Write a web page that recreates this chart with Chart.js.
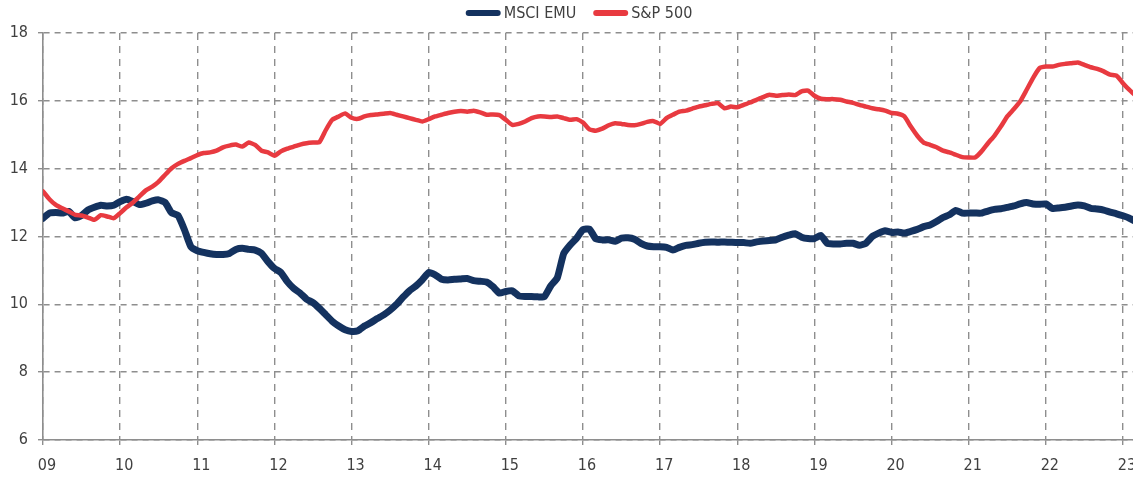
<!DOCTYPE html>
<html>
<head>
<meta charset="utf-8">
<script src="https://cdn.jsdelivr.net/npm/chart.js@4/dist/chart.umd.min.js"></script>
<style>
  body { margin: 0; background: #fff; }
  #wrap { width: 1133px; height: 477px; }
</style>
</head>
<body>
<div id="wrap"><canvas id="myChart" width="1133" height="477"></canvas></div>
<script>
// monthly values, first point = Jan 2009
const startYear = 2009;

const msciEmu = [
  12.54, 12.69, 12.71, 12.69, 12.74, 12.55, 12.62, 12.78, 12.86, 12.92, 12.90, 12.92, // 09
  13.03, 13.10, 13.03, 12.94, 12.98, 13.05, 13.08, 13.00, 12.70, 12.62, 12.20, 11.70, // 10
  11.58, 11.53, 11.49, 11.47, 11.47, 11.50, 11.62, 11.65, 11.62, 11.60, 11.50, 11.26, // 11
  11.06, 10.94, 10.67, 10.47, 10.33, 10.15, 10.05, 9.88, 9.69, 9.50, 9.36, 9.25,      // 12
  9.20, 9.22, 9.36, 9.46, 9.58, 9.69, 9.83, 10.00, 10.21, 10.40, 10.54, 10.72,        // 13
  10.94, 10.87, 10.74, 10.72, 10.74, 10.75, 10.76, 10.70, 10.68, 10.66, 10.52, 10.33, // 14
  10.38, 10.40, 10.25, 10.23, 10.23, 10.22, 10.23, 10.55, 10.78, 11.50, 11.75, 11.95, // 15
  12.20, 12.22, 11.93, 11.90, 11.90, 11.86, 11.95, 11.96, 11.92, 11.80, 11.72, 11.70, // 16
  11.70, 11.68, 11.60, 11.68, 11.74, 11.76, 11.80, 11.83, 11.84, 11.83, 11.84, 11.83, // 17
  11.82, 11.82, 11.80, 11.84, 11.87, 11.88, 11.90, 11.98, 12.04, 12.08, 11.98, 11.94, // 18
  11.94, 12.03, 11.80, 11.78, 11.78, 11.80, 11.80, 11.74, 11.80, 12.00, 12.10, 12.17, // 19
  12.12, 12.13, 12.10, 12.15, 12.21, 12.29, 12.34, 12.44, 12.56, 12.64, 12.77, 12.69, // 20
  12.69, 12.69, 12.69, 12.75, 12.80, 12.82, 12.86, 12.90, 12.96, 13.00, 12.96, 12.95, // 21
  12.96, 12.83, 12.84, 12.86, 12.90, 12.93, 12.90, 12.83, 12.81, 12.78, 12.72, 12.67, // 22
  12.61, 12.54, 12.44                                                                  // 23
];

const sp500 = [
  13.33, 13.10, 12.93, 12.83, 12.74, 12.64, 12.62, 12.56, 12.49, 12.63, 12.59, 12.54, // 09
  12.69, 12.86, 13.00, 13.18, 13.36, 13.47, 13.62, 13.82, 14.01, 14.14, 14.23, 14.31, // 10
  14.40, 14.46, 14.48, 14.53, 14.63, 14.68, 14.71, 14.65, 14.77, 14.70, 14.53, 14.48, // 11
  14.38, 14.51, 14.59, 14.65, 14.71, 14.75, 14.77, 14.78, 15.14, 15.44, 15.54, 15.63, // 12
  15.50, 15.47, 15.54, 15.58, 15.60, 15.62, 15.64, 15.59, 15.54, 15.49, 15.44, 15.39, // 13
  15.46, 15.54, 15.59, 15.64, 15.68, 15.70, 15.68, 15.71, 15.66, 15.59, 15.60, 15.58, // 14
  15.44, 15.29, 15.32, 15.39, 15.49, 15.54, 15.54, 15.52, 15.54, 15.49, 15.44, 15.46, // 15
  15.36, 15.16, 15.12, 15.18, 15.28, 15.34, 15.32, 15.29, 15.28, 15.32, 15.38, 15.40, // 16
  15.32, 15.49, 15.59, 15.68, 15.71, 15.77, 15.83, 15.87, 15.91, 15.93, 15.78, 15.83, // 17
  15.81, 15.88, 15.95, 16.03, 16.11, 16.18, 16.15, 16.17, 16.19, 16.17, 16.28, 16.30, // 18
  16.15, 16.06, 16.05, 16.05, 16.03, 15.98, 15.94, 15.88, 15.83, 15.78, 15.75, 15.71, // 19
  15.64, 15.62, 15.54, 15.24, 14.97, 14.77, 14.70, 14.63, 14.53, 14.48, 14.41, 14.34, // 20
  14.33, 14.33, 14.51, 14.75, 14.97, 15.24, 15.54, 15.75, 15.98, 16.32, 16.67, 16.96, // 21
  17.01, 17.01, 17.06, 17.09, 17.11, 17.13, 17.06, 16.99, 16.94, 16.87, 16.77, 16.74, // 22
  16.52, 16.32, 16.15                                                                  // 23
];

const seriesNames = ['MSCI EMU', 'S&P 500'];
const xTickYears = [2009, 2010, 2011, 2012, 2013, 2014, 2015, 2016, 2017, 2018, 2019, 2020, 2021, 2022, 2023];
const yTicks = [6, 8, 10, 12, 14, 16, 18];

const navy = 'rgb(20, 50, 95)';
const red = 'rgb(232, 58, 64)';
const gridGrey = '#8e8e8e';
const textGrey = '#404040';
const fontFamily = "'Liberation Sans Narrow', 'DejaVu Sans Condensed', sans-serif";

const toPoints = arr => arr.map((v, i) => ({ x: startYear + i / 12, y: v }));

// legend drawn by hand: thick rounded line + label, centred over the plot
const lineLegend = {
  id: 'lineLegend',
  afterDraw(chart) {
    const ctx = chart.ctx;
    const sets = chart.data.datasets;
    const boxW = 35, gap = 3, spacing = 17, yMid = 13;
    ctx.save();
    ctx.font = '16px ' + fontFamily;
    let total = 0;
    sets.forEach((ds, i) => {
      total += boxW + gap + ctx.measureText(ds.label).width;
      if (i < sets.length - 1) total += spacing;
    });
    let x = 579 - total / 2;
    sets.forEach(ds => {
      ctx.strokeStyle = ds.borderColor;
      ctx.lineWidth = 6;
      ctx.lineCap = 'round';
      ctx.beginPath();
      ctx.moveTo(x + 3, yMid);
      ctx.lineTo(x + boxW - 3, yMid);
      ctx.stroke();
      x += boxW + gap;
      ctx.fillStyle = textGrey;
      ctx.textBaseline = 'middle';
      ctx.textAlign = 'left';
      ctx.fillText(ds.label, x, yMid + 1);
      x += ctx.measureText(ds.label).width + spacing;
    });
    ctx.restore();
  }
};

const myChart = new Chart(document.getElementById('myChart'), {
  type: 'line',
  data: {
    datasets: [{
      label: seriesNames[0],
      data: toPoints(msciEmu),
      borderColor: navy,
      backgroundColor: navy,
      borderWidth: 7,
      order: 1
    }, {
      label: seriesNames[1],
      data: toPoints(sp500),
      borderColor: red,
      backgroundColor: red,
      borderWidth: 4.5,
      order: 0
    }]
  },
  options: {
    responsive: false,
    animation: false,
    layout: { padding: { top: 33, right: 0, left: 0, bottom: 0 } },
    elements: {
      point: { radius: 0, hoverRadius: 0 },
      line: { tension: 0.15, borderJoinStyle: 'round', borderCapStyle: 'round' }
    },
    plugins: {
      legend: { display: false },
      tooltip: { enabled: false }
    },
    scales: {
      x: {
        type: 'linear',
        min: 2009,
        max: 2023.13,
        afterBuildTicks(scale) {
          scale.ticks = xTickYears.map(v => ({ value: v }));
        },
        afterFit(scale) {
          scale.height = 37;
          scale.paddingLeft = 0;
          scale.paddingRight = 0;
        },
        ticks: {
          autoSkip: false,
          maxRotation: 0,
          padding: 11,
          labelOffset: 4,
          color: textGrey,
          font: { family: fontFamily, size: 16 },
          callback: v => String(Math.round(v) % 100).padStart(2, '0')
        },
        grid: {
          color: gridGrey,
          lineWidth: 1.4,
          tickLength: 5,
          tickBorderDash: []
        },
        border: { display: true, color: gridGrey, width: 1.6, dash: [7, 6] }
      },
      y: {
        min: 6,
        max: 18,
        afterBuildTicks(scale) {
          scale.ticks = yTicks.map(v => ({ value: v }));
        },
        afterFit(scale) {
          scale.width = 43;
        },
        ticks: {
          padding: 10,
          color: textGrey,
          font: { family: fontFamily, size: 16 }
        },
        grid: {
          color: gridGrey,
          lineWidth: 1.4,
          tickLength: 5,
          tickBorderDash: []
        },
        border: { display: true, color: gridGrey, width: 1.6, dash: [6, 5] }
      }
    }
  },
  plugins: [lineLegend]
});
</script>
</body>
</html>
